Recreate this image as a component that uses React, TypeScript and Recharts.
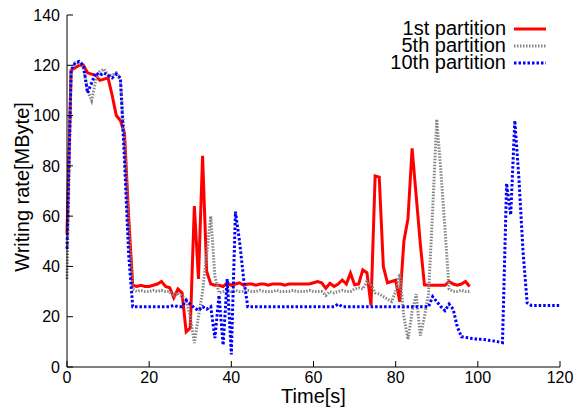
import { Label, Legend, Line, LineChart, XAxis, YAxis } from 'recharts';

// writing rate [MByte] per second, index = time [s]
const first = [
	53, 118, 119, 120, 120, 117, 116.5, 116, 114, 114.5, 115, 108, 100, 98, 93, 60,
	32.5, 32, 32.5, 32, 32, 32.5, 33, 34, 32, 31.5, 27.5, 31, 29.5, 14, 15.5, 64,
	35, 84, 38, 33, 32.5, 32.5, 32, 33.5, 32.5, 33, 33.5, 32.5, 33, 33, 32.5, 33,
	33, 32.5, 33, 33, 33, 32.5, 33, 33, 33, 33, 33, 33, 33.5, 34, 33.5, 31.3,
	33.3, 32, 33, 34.6, 33, 37.3, 32.7, 33, 38.6, 37.5, 24.5, 76, 75.5, 40, 33.5,
	34, 34.5, 26, 50, 59, 87, 68, 49, 32.7, 32.5, 32.5, 32.5, 32.5, 32.5, 34, 33,
	32.5, 33, 34, 32,
];

const fifth = [
	35, 117, 121, 121, 119, 110, 106, 114, 117.5, 118.5, 116, 116, 117, 114, 90, 55,
	31, 30, 30.5, 30, 30, 30.5, 30, 30.5, 30, 30, 28, 29.5, 28, 27, 20, 9.5,
	20, 30, 45, 60, 36, 29.5, 30, 31, 30, 30.5, 30, 30, 30.5, 30, 30, 30.5,
	30, 30, 30, 30.5, 30, 30, 30, 30.5, 30, 30, 30, 30.5, 30, 30, 30, 28.5,
	30, 29.5, 30, 30.5, 30, 30, 31, 31.5, 31, 34, 32.5, 29.5, 29, 28, 27,
	26, 30, 37, 20, 11, 22, 29, 12.5, 20, 29, 62, 98.5, 78, 55, 31, 30,
	30, 30.5, 30, 30,
];

const tenth = [
	47, 118, 121, 121.5, 120, 109, 113, 117, 116, 117, 116, 115, 116.5, 115, 82, 45,
	24, 24, 24, 24, 24, 24, 24, 24, 24, 24, 24.5, 24, 24, 26.5, 25, 23.5,
	22.5, 24, 23, 24, 11.5, 28.5, 8.7, 35, 5, 61.8, 50, 35, 24, 24, 24, 24,
	24, 24, 24, 24, 24, 24, 24, 24, 24, 24, 24, 24, 24, 24, 24, 24,
	24, 24, 25, 24, 24, 24, 24, 24, 24, 24, 24, 24, 24, 24, 24, 24,
	24, 24, 24, 24, 24, 24, 24, 24, 24, 28, 26, 24, 22.4, 25, 23, 16,
	12, 11.8, 11.5, 11.3, 11, 11, 10.8, 10.5, 10.3, 10, 9.7, 73, 60.5, 98, 75, 46,
	25.5, 24.5, 24.5, 24.5, 24.5, 24.5, 24.5, 24.5, 24.5,
];

const xTicks = [0, 20, 40, 60, 80, 100, 120];
const yTicks = [0, 20, 40, 60, 80, 100, 120, 140];

const series = [
	{ key: 'first', name: '1st partition', color: '#ff0000', dash: undefined },
	{ key: 'fifth', name: '5th partition', color: '#858585', dash: '1.5 1.5' },
	{ key: 'tenth', name: '10th partition', color: '#0000ff', dash: '2.5 2' },
];

const data = tenth.map((v, t) => ({
	t,
	first: first[t] ?? null,
	fifth: fifth[t] ?? null,
	tenth: v,
}));

const font = '"Liberation Sans", Arial, Helvetica, sans-serif';
const tickStyle = { fill: '#000', fontSize: 16, fontFamily: font };

function KeyBox() {
	return (
		<div style={{ fontFamily: font, fontSize: 20, color: '#000' }}>
			{series.map((s) => (
				<div
					key={s.key}
					style={{
						display: 'flex',
						alignItems: 'center',
						justifyContent: 'flex-end',
						height: 17,
					}}
				>
					<span
						style={{
							display: 'inline-block',
							height: 17,
							lineHeight: '17px',
							overflow: 'visible',
							whiteSpace: 'nowrap',
						}}
					>
						{s.name}
					</span>
					<svg width={40} height={10} style={{ marginLeft: 8 }}>
						<line
							x1={0}
							x2={32}
							y1={5}
							y2={5}
							stroke={s.color}
							strokeWidth={3}
							strokeDasharray={s.dash}
						/>
					</svg>
				</div>
			))}
		</div>
	);
}

export default function App() {
	return (
		<div style={{ position: 'absolute', left: 0, top: 0, background: '#fff' }}>
			<LineChart
				width={576}
				height={407}
				data={data}
				margin={{ top: 15, right: 16, bottom: 0, left: 0 }}
				style={{ fontFamily: font }}
			>
				<XAxis
					dataKey="t"
					type="number"
					domain={[0, 120]}
					ticks={xTicks}
					height={40}
					tick={tickStyle}
					tickSize={-6}
					tickMargin={11}
					axisLine={{ stroke: '#000' }}
					tickLine={{ stroke: '#000' }}
				>
					<Label
						value="Time[s]"
						position="center"
						dy={9}
						style={{ fontSize: 20, fill: '#000', fontFamily: font }}
					/>
				</XAxis>
				<XAxis
					xAxisId="top"
					dataKey="t"
					type="number"
					orientation="top"
					domain={[0, 120]}
					ticks={xTicks}
					height={0}
					tick={false}
					tickSize={-6}
					axisLine={{ stroke: '#000' }}
					tickLine={{ stroke: '#000' }}
				/>
				<YAxis
					type="number"
					domain={[0, 140]}
					ticks={yTicks}
					width={67}
					tick={tickStyle}
					tickSize={-6}
					tickMargin={13}
					axisLine={{ stroke: '#000' }}
					tickLine={{ stroke: '#000' }}
				>
					<Label
						value="Writing rate[MByte]"
						angle={-90}
						position="center"
						dx={-12}
						dy={-4}
						style={{ fontSize: 20, fill: '#000', fontFamily: font, textAnchor: 'middle' }}
					/>
				</YAxis>
				<YAxis
					yAxisId="right"
					orientation="right"
					type="number"
					domain={[0, 140]}
					ticks={yTicks}
					width={0}
					tick={false}
					tickSize={-6}
					axisLine={{ stroke: '#000' }}
					tickLine={{ stroke: '#000' }}
				/>
				<Legend
					layout="horizontal"
					verticalAlign="middle"
					align="center"
					wrapperStyle={{ top: 20, right: 22, width: 'auto' }}
					content={() => <KeyBox />}
				/>
				{series.map((s) => (
					<Line
						key={s.key}
						dataKey={s.key}
						name={s.name}
						type="linear"
						stroke={s.color}
						strokeWidth={3}
						strokeDasharray={s.dash}
						dot={false}
						activeDot={false}
						isAnimationActive={false}
					/>
				))}
			</LineChart>
		</div>
	);
}
